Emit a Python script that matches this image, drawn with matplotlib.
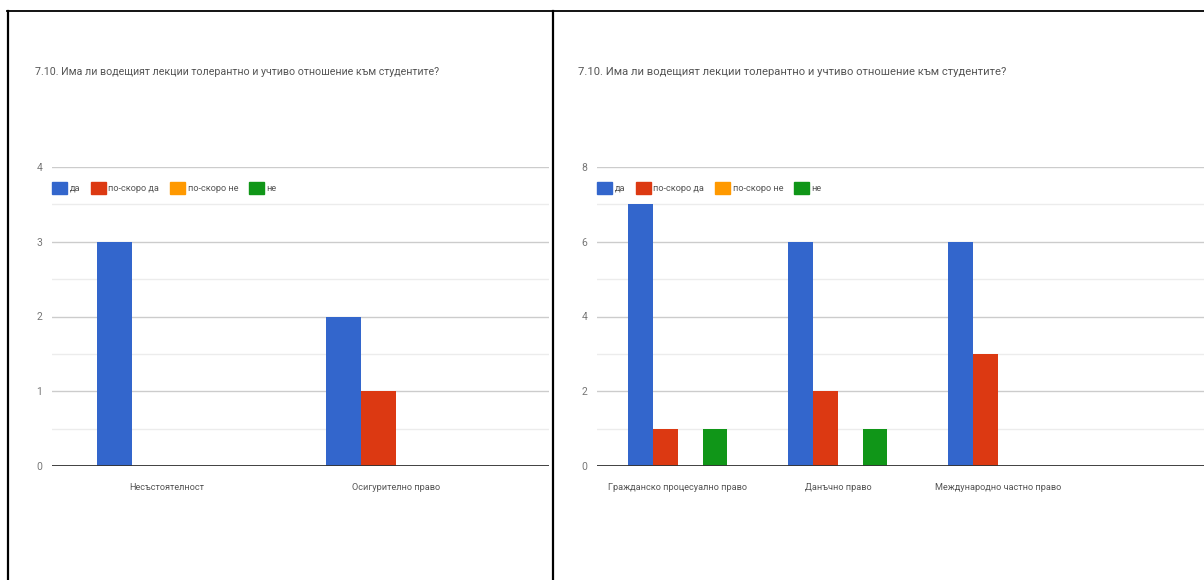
import matplotlib.pyplot as plt
import numpy as np
from matplotlib.lines import Line2D
from matplotlib.patches import Patch

title = "7.10. Има ли водещият лекции толерантно и учтиво отношение към студентите?"
series = ["да", "по-скоро да", "по-скоро не", "не"]
colors = ["#3366cc", "#dc3912", "#ff9900", "#109618"]

# left chart
cats_l = ["Несъстоятелност", "Осигурително право"]
vals_l = [[3, 2], [0, 1], [0, 0], [0, 0]]

# right chart
cats_r = ["Гражданско процесуално право", "Данъчно право", "Международно частно право"]
vals_r = [[7, 6, 6], [1, 2, 3], [0, 0, 0], [1, 1, 0]]

plt.rcParams["font.family"] = ["Roboto", "DejaVu Sans"]

W, H = 1204, 580
fig = plt.figure(figsize=(W / 100, H / 100), dpi=100)


def px(x0, y0, x1, y1):
    # pixel box -> figure fraction rect
    return [x0 / W, 1 - y1 / H, (x1 - x0) / W, (y1 - y0) / H]


def draw(ax, cats, vals, ymax, step, width, xlim):
    x = np.arange(len(cats))
    n = len(vals)
    for i, v in enumerate(vals):
        off = (i - (n - 1) / 2) * width
        ax.bar(x + off, v, width, color=colors[i], zorder=3)
    ax.set_xlim(*xlim)
    ax.set_ylim(0, ymax)
    ax.set_yticks(np.arange(0, ymax + 1, step))
    ax.set_yticks(np.arange(step / 2, ymax, step), minor=True)
    ax.grid(axis="y", which="major", color="#cccccc", lw=1, zorder=0)
    ax.grid(axis="y", which="minor", color="#ececec", lw=1, zorder=0)
    ax.axhline(0, color="#333333", lw=1.3, zorder=4)
    ax.set_xticks(x)
    ax.set_xticklabels(cats)
    ax.tick_params(axis="x", length=0, pad=12, labelsize=6.6, labelcolor="#555555")
    ax.tick_params(axis="y", which="both", length=0, pad=7, labelsize=7.5, labelcolor="#777777")
    for s in ax.spines.values():
        s.set_visible(False)
    handles = [Patch(color=c) for c in colors]
    ax.legend(handles, series, loc="center left", bbox_to_anchor=(0, 0.93), ncol=4,
              frameon=False, fontsize=6.6, handlelength=1.6, handleheight=1.7,
              handletextpad=0.3, columnspacing=1.2, borderaxespad=0, borderpad=0,
              labelcolor="#555555")


axl = fig.add_axes(px(52, 167, 549, 466))
draw(axl, cats_l, vals_l, 4, 1, 0.153, (-0.502, 1.668))
fig.text(35 / W, 1 - 72 / H, title, fontsize=7.7, color="#555555", va="center")

axr = fig.add_axes(px(597, 167, 1204, 466))
draw(axr, cats_r, vals_r, 8, 2, 0.155, (-0.506, 3.29))
fig.text(578 / W, 1 - 72 / H, title, fontsize=8.1, color="#555555", va="center")

# table borders
fig.add_artist(Line2D([7 / W, 1], [1 - 11 / H] * 2, color="black", lw=1.3))
fig.add_artist(Line2D([7.5 / W] * 2, [0, 1 - 11 / H], color="black", lw=1.6))
fig.add_artist(Line2D([552.5 / W] * 2, [0, 1 - 11 / H], color="black", lw=1.6))

fig.savefig("out.png", dpi=100, facecolor="white")
